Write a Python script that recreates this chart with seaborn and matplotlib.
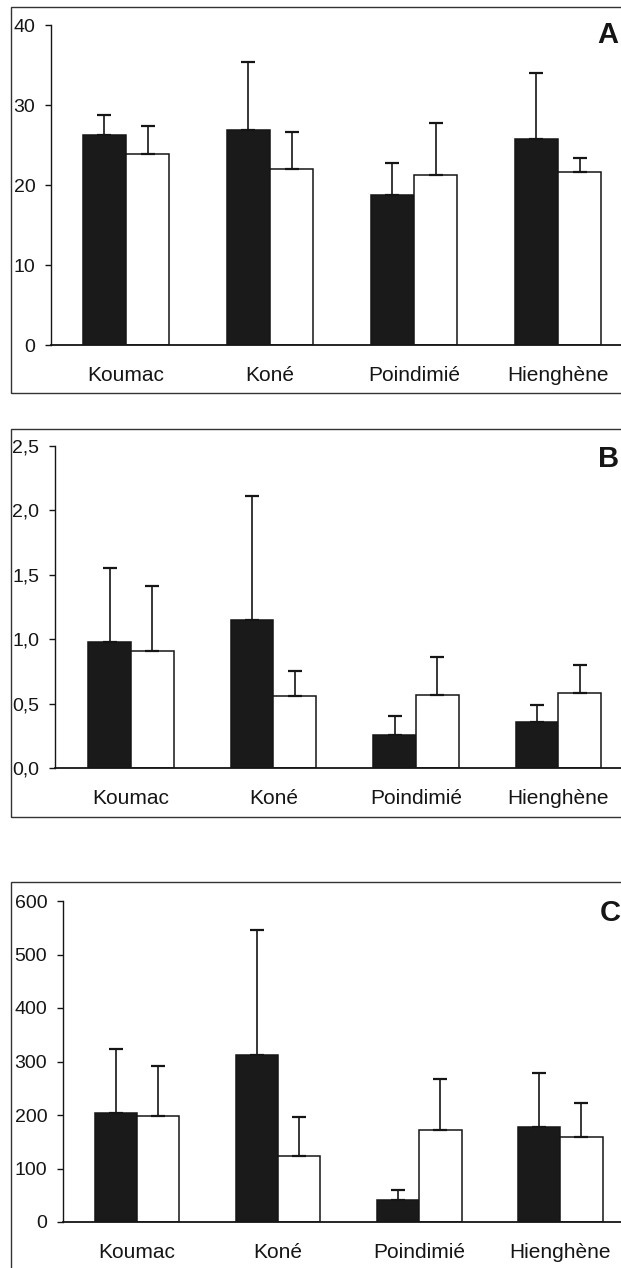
import matplotlib
matplotlib.use("Agg")
import matplotlib.pyplot as plt
import seaborn as sns
import pandas as pd
from matplotlib.patches import Rectangle

# ---------------- data ----------------
categories = ["Koumac", "Koné", "Poindimié", "Hienghène"]
groups = ["dark", "light"]

a_dark = [26.3, 26.9, 18.7, 25.7]
a_dark_sd = [2.5, 8.5, 4.1, 8.3]
a_light = [23.9, 22.0, 21.3, 21.6]
a_light_sd = [3.5, 4.6, 6.4, 1.8]

b_dark = [0.98, 1.15, 0.26, 0.36]
b_dark_sd = [0.57, 0.96, 0.14, 0.13]
b_light = [0.91, 0.56, 0.57, 0.58]
b_light_sd = [0.50, 0.19, 0.29, 0.22]

c_dark = [204, 313, 42, 177]
c_dark_sd = [119, 232, 18, 102]
c_light = [199, 123, 172, 158]
c_light_sd = [92, 73, 96, 65]

a_ticks = [0, 10, 20, 30, 40]
a_ticklabels = ["0", "10", "20", "30", "40"]
b_ticks = [0, 0.5, 1.0, 1.5, 2.0, 2.5]
b_ticklabels = ["0,0", "0,5", "1,0", "1,5", "2,0", "2,5"]
c_ticks = [0, 100, 200, 300, 400, 500, 600]
c_ticklabels = ["0", "100", "200", "300", "400", "500", "600"]
panel_labels = ["A", "B", "C"]

# ---------------- style ----------------
sns.set_theme(style="white")
plt.rcParams["font.family"] = ["Liberation Sans", "DejaVu Sans"]

W, H = 621, 1268
fig = plt.figure(figsize=(W / 100, H / 100), dpi=100)
fig.patch.set_facecolor("white")

INK = "#151515"


def fx(px):
    return px / W


def fy(py):
    return 1 - py / H


def draw_panel(axbox, frame, xlim, dark, dark_sd, light, light_sd,
               ticks, ticklabels, letter, letter_pos):
    left, top, bottom = axbox
    ax = fig.add_axes([fx(left), fy(bottom), 1 - fx(left), (bottom - top) / H])
    ax.set_facecolor("none")
    df = pd.DataFrame({
        "site": categories * 2,
        "group": [groups[0]] * len(categories) + [groups[1]] * len(categories),
        "value": list(dark) + list(light),
    })
    sns.barplot(data=df, x="site", y="value", hue="group", order=categories,
                hue_order=groups, palette={"dark": "#1a1a1a", "light": "white"},
                edgecolor=INK, linewidth=1.1, width=0.6, errorbar=None,
                legend=False, saturation=1, ax=ax)
    for cont, sds in zip(ax.containers, [dark_sd, light_sd]):
        for bar, sd in zip(cont, sds):
            x = bar.get_x() + bar.get_width() / 2
            h = bar.get_height()
            ax.errorbar(x, h, yerr=[[0], [sd]], fmt="none", ecolor=INK,
                        elinewidth=1.2, capsize=4.7, capthick=1.6, zorder=3)
    ax.set_xlim(*xlim)
    ax.set_ylim(0, ticks[-1])
    ax.set_yticks(ticks)
    ax.set_yticklabels(ticklabels)
    ax.set_xlabel("")
    ax.set_ylabel("")
    for s in ["top", "right"]:
        ax.spines[s].set_visible(False)
    ax.spines["left"].set_color(INK)
    ax.spines["left"].set_linewidth(1.0)
    ax.spines["bottom"].set_color(INK)
    ax.spines["bottom"].set_linewidth(1.3)
    ax.tick_params(axis="y", length=4.3, width=1.0, pad=7, labelsize=14,
                   direction="out", colors=INK, left=True)
    ax.tick_params(axis="x", length=0, pad=15, labelsize=15, colors=INK)
    # outer frame
    fx0, fy0, fx1, fy1 = frame
    fig.add_artist(Rectangle((fx(fx0), fy(fy1)), fx(fx1) - fx(fx0), (fy1 - fy0) / H,
                             transform=fig.transFigure, fill=False,
                             edgecolor="#333333", linewidth=1.0, zorder=10))
    fig.text(fx(letter_pos[0]), fy(letter_pos[1]), letter, fontsize=21,
             fontweight="bold", ha="left", va="baseline", color=INK)
    return ax


draw_panel((51, 25, 345), (11, 7, 660, 393), (-0.521, 3.4375),
           a_dark, a_dark_sd, a_light, a_light_sd, a_ticks, a_ticklabels,
           panel_labels[0], (597, 43))
draw_panel((55, 446, 768), (11, 429, 660, 817), (-0.534, 3.44),
           b_dark, b_dark_sd, b_light, b_light_sd, b_ticks, b_ticklabels,
           panel_labels[1], (598, 467))
draw_panel((63, 901, 1222), (11, 882, 660, 1300), (-0.525, 3.43),
           c_dark, c_dark_sd, c_light, c_light_sd, c_ticks, c_ticklabels,
           panel_labels[2], (600, 921))

fig.savefig("out.png", dpi=100, facecolor="white")
